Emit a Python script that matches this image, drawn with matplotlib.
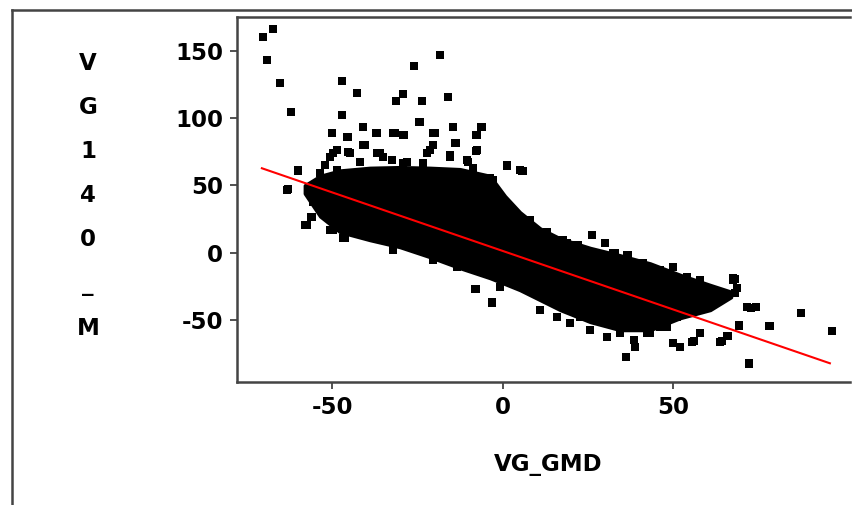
import matplotlib
matplotlib.use("Agg")
import matplotlib.pyplot as plt
from matplotlib.lines import Line2D

# solid part of the point cloud (edges)
core_x = [-58.0, -53.5, -47.7, -38.9, -30.1, -21.3, -12.5, -3.7, 0.7, 5.1,
          11.0, 16.9, 25.7, 34.5, 43.3, 52.1, 60.9, 67.0]
core_upper = [50.0, 57.0, 61.0, 63.0, 63.5, 63.0, 62.0, 57.0, 42.0, 30.0,
              18.0, 10.5, 3.5, -2.0, -8.0, -16.5, -24.0, -29.0]
core_lower = [44.0, 27.0, 15.4, 9.4, 4.2, -3.2, -11.4, -18.8, -23.2, -27.7,
              -35.1, -42.5, -51.4, -57.4, -57.4, -48.5, -42.5, -33.0]

# individual points outside / on the edge of the solid cloud
pts_x = [-70.4, -67.4, -69.0, -65.2, -62.1,
         -47.1, -42.8, -47.0, -25.9, -18.3, -29.1, -31.3, -23.7, -16.1, -24.4,
         -50.1, -41.0, -37.2, -32.0, -29.1, -45.7, -20.3, -14.6, -6.3, -7.9,
         -13.8, -7.9, 1.2, 5.8, -40.8, -48.6, -45.2, -50.6, -36.9, -35.0,
         -29.1, -23.2, -21.3, -15.4, -10.5, -8.6, -2.7, -2.7,
         -59.9, -62.8, -56.5, -55.5, -56.2, -57.6, -50.1, -45.7, -46.2, -32.0,
         -57.4, -7.9, -3.2, -0.7, -3.2,
         36.1, 38.9, 72.4, 78.4, 63.8, 71.6, 74.3, 68.2, 68.7, 26.2, 30.1,
         33.0, 5.9, 13.0, 50.1, 52.1, 56.0, 57.9, 65.7, 69.2, 19.8, 22.7,
         38.4, 43.3, 46.2, 87.4, 96.5, 78.2, 72.3, 64.3, 66.2, 72.8, 67.7,
         68.2, 36.9, 50.1, 69.4, 55.5,
         -45.2, -40.8, -36.9, -31.5, -28.9, -24.2, -19.8, -14.4, -6.1, -7.6,
         -13.9, -20.3, -40.3, -44.7, -49.6, -41.8, -35.9, -32.5, -28.1, -22.2,
         -15.4, -10.0, -7.6, 1.2, 5.1, -52.1, -48.6, -53.5, -59.9, -63.3,
         -56.5, -55.5, -56.0, -57.9, -50.6, -45.7, -46.7, -32.0, -3.7, -12.0,
         -18.3, 5.6, 13.0, 32.5, 36.9, 17.8, 22.2, 8.1, 67.7,
         -49.6, -20.3, -13.4, -8.1, 18.8, 21.8,
         25.7, 30.6, 34.5, 42.3, 48.2, 51.1, 54.0, 11.0, 15.9,
         16.9, 36.4, 41.3, 46.2, 54.0, 57.9, 61.8]
pts_y = [160.4, 165.9, 143.1, 125.8, 104.5,
         127.7, 118.4, 102.5, 138.9, 146.8, 117.9, 112.4, 112.4, 115.9, 97.1,
         89.1, 93.1, 89.1, 89.1, 87.4, 86.1, 89.1, 93.1, 93.1, 87.6,
         81.7, 75.8, 64.6, 60.7, 80.0, 76.3, 75.0, 71.3, 73.8, 71.3,
         66.4, 66.4, 76.3, 71.3, 68.8, 62.7, 54.0, 46.6,
         60.7, 47.1, 44.1, 37.9, 26.3, 20.6, 16.9, 20.6, 11.1, 2.0,
         20.6, -27.2, -37.1, -25.7, -36.8,
         -77.2, -69.8, -82.1, -54.2, -66.1, -40.5, -40.1, -19.8, -26.4, 13.1, 7.4,
         -0.4, 60.7, 15.1, -67.3, -69.8, -65.4, -59.9, -61.6, -53.7, -52.4, -47.5,
         -64.8, -59.9, -55.0, -44.6, -57.9, -54.4, -82.9, -65.4, -61.9, -40.8, -20.3,
         -30.2, -1.7, -10.4, -54.2, -66.1,
         86.1, 93.6, 89.1, 89.1, 87.4, 97.3, 89.1, 93.6, 93.6, 87.4,
         81.2, 80.0, 80.0, 73.8, 73.8, 67.6, 73.8, 68.8, 67.6, 73.8,
         72.6, 67.6, 76.3, 65.1, 61.4, 65.1, 61.4, 59.0, 61.4, 46.6,
         45.3, 39.1, 26.7, 20.6, 16.9, 20.6, 10.7, 2.0, 55.3, 50.3,
         46.6, 60.9, 15.6, -0.4, -3.0, 9.4, 5.7, 24.3, -19.0,
         16.9, -5.4, -10.4, -27.2, 7.0, 5.7,
         -57.4, -62.4, -59.9, -59.9, -55.0, -47.5, -37.6, -42.6, -47.5,
         9.4, -1.7, -7.9, -12.8, -17.8, -20.3, -27.7]

# fitted line
fit_x = [-70.6, 96.0]
fit_y = [62.7, -82.1]

x_ticks = [-50, 0, 50]
y_ticks = [-50, 0, 50, 100, 150]
ylabel_chars = ["V", "G", "1", "4", "0", "_", "M"]

W, H = 852, 505
fig = plt.figure(figsize=(W / 100, H / 100), dpi=100)
ax = fig.add_axes([237 / W, (H - 382) / H, (850 - 237) / W, (382 - 17) / H])

ax.fill_between(core_x, core_lower, core_upper, color="black", lw=2.5,
                edgecolor="black", zorder=1)
ax.scatter(pts_x, pts_y, s=26, marker="s", color="black", linewidths=0, zorder=2)
ax.plot(fit_x, fit_y, color="#ff0000", lw=1.5, zorder=5)

ax.set_xlim(-77.9, 101.9)
ax.set_ylim(-96, 175)
ax.set_xticks(x_ticks)
ax.set_yticks(y_ticks)

font = dict(family="DejaVu Sans", weight="bold", size=16.5)
ax.set_xticklabels([str(t) for t in x_ticks], fontdict=font)
ax.set_yticklabels([str(t) for t in y_ticks], fontdict=font)
ax.tick_params(direction="out", length=5, width=1.2, color="#333333", pad=5)

for s in ["left", "bottom", "top"]:
    ax.spines[s].set_color("#444444")
    ax.spines[s].set_linewidth(1.8)
ax.spines["right"].set_visible(False)

fig.text(548 / W, 1 - 465 / H, "VG_GMD", ha="center", va="center", **font)
for i, c in enumerate(ylabel_chars):
    fig.text(88 / W, 1 - (63 + i * 44.2) / H, c, ha="center", va="center", **font)

# outer frame
fig.add_artist(Line2D([12 / W, 12 / W], [0, 1 - 10 / H], transform=fig.transFigure,
                      color="#444444", lw=1.8))
fig.add_artist(Line2D([12 / W, 1], [1 - 10 / H, 1 - 10 / H], transform=fig.transFigure,
                      color="#444444", lw=1.8))

fig.savefig("out.png", dpi=100)
